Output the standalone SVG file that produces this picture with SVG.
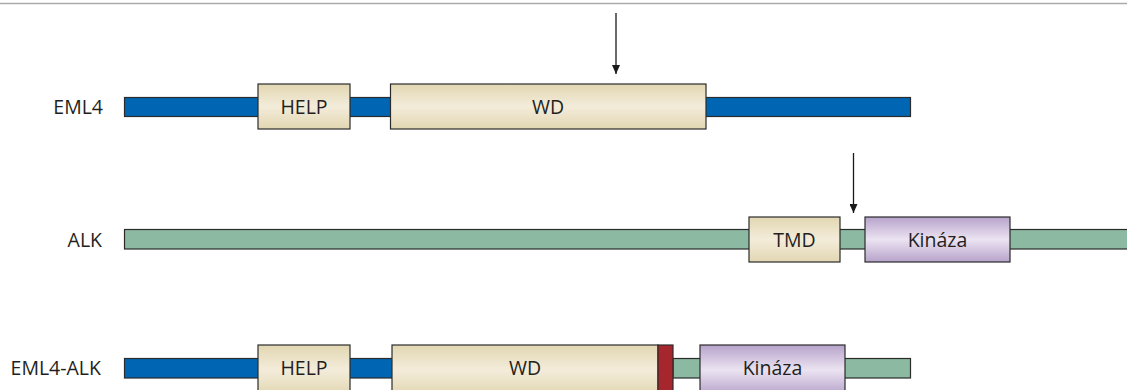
<svg xmlns="http://www.w3.org/2000/svg" width="1127" height="390" viewBox="0 0 1127 390">
<defs>
<linearGradient id="beige" x1="0" y1="0" x2="0" y2="1">
<stop offset="0" stop-color="#e2d7b2"/>
<stop offset="0.5" stop-color="#f3ecda"/>
<stop offset="1" stop-color="#e2d7b2"/>
</linearGradient>
<linearGradient id="purple" x1="0" y1="0" x2="0" y2="1">
<stop offset="0" stop-color="#b7a3cb"/>
<stop offset="0.5" stop-color="#ebe3f1"/>
<stop offset="1" stop-color="#b7a3cb"/>
</linearGradient>
<marker id="ah" markerWidth="9" markerHeight="8" refX="9" refY="4" orient="auto" markerUnits="userSpaceOnUse" viewBox="0 0 9 8">
<path d="M0,0 L9,4 L0,8 Z" fill="#1a1a1a"/>
</marker>
</defs>
<style>
.lbl{font-family:"Open Sans","Noto Sans","Liberation Sans",sans-serif;font-size:19.5px;fill:#231f20}
.side{text-anchor:end}
.mid{text-anchor:middle}
.blue{fill:#0066b3;stroke:#2b2b2b;stroke-width:1.2}
.green{fill:#8bb9a1;stroke:#2b2b2b;stroke-width:1.2}
.dom{fill:url(#beige);stroke:#2b2b2b;stroke-width:1.2}
.kin{fill:url(#purple);stroke:#2b2b2b;stroke-width:1.2}
.red{fill:#a6262d;stroke:#2b2b2b;stroke-width:1.2}
.arr{stroke:#1a1a1a;stroke-width:1.3;fill:none;marker-end:url(#ah)}
</style>
<line x1="0" y1="3.5" x2="1127" y2="3.5" stroke="#aaaaaa" stroke-width="1.5"/>

<g id="eml4">
<text class="lbl side" x="103" y="113.5">EML4</text>
<rect class="blue" x="124.5" y="97.5" width="786" height="19"/>
<g id="eml4-help"><rect class="dom" x="258" y="84" width="92" height="45"/><text class="lbl mid" x="304" y="113.5">HELP</text></g>
<g id="eml4-wd"><rect class="dom" x="390.5" y="84" width="315.5" height="45"/><text class="lbl mid" x="548" y="113.5">WD</text></g>
</g>

<g id="alk">
<text class="lbl side" x="102" y="246.5">ALK</text>
<rect class="green" x="124.5" y="229.5" width="1010" height="19.5"/>
<g id="alk-tmd"><rect class="dom" x="749" y="217" width="91" height="45"/><text class="lbl mid" x="794.5" y="246.5">TMD</text></g>
<g id="alk-kin"><rect class="kin" x="865" y="217" width="145" height="45"/><text class="lbl mid" x="937.5" y="246.5">Kináza</text></g>
</g>

<g id="fusion">
<text class="lbl side" x="101" y="375">EML4-ALK</text>
<rect class="blue" x="124.5" y="358.5" width="534" height="19.5"/>
<rect class="green" x="673" y="358.5" width="237.5" height="19.5"/>
<g id="f-help"><rect class="dom" x="258" y="345" width="92" height="50"/><text class="lbl mid" x="304" y="375">HELP</text></g>
<g id="f-wd"><rect class="dom" x="392" y="345" width="266" height="50"/><text class="lbl mid" x="525" y="375">WD</text></g>
<g id="f-red"><rect class="red" x="658" y="345" width="15" height="50"/></g>
<g id="f-kin"><rect class="kin" x="700" y="345" width="145" height="50"/><text class="lbl mid" x="772.5" y="375">Kináza</text></g>
</g>

<g id="connectors">
<line class="arr" x1="616" y1="13" x2="616" y2="74"/>
<line class="arr" x1="853.5" y1="153" x2="853.5" y2="213"/>
</g>
</svg>
